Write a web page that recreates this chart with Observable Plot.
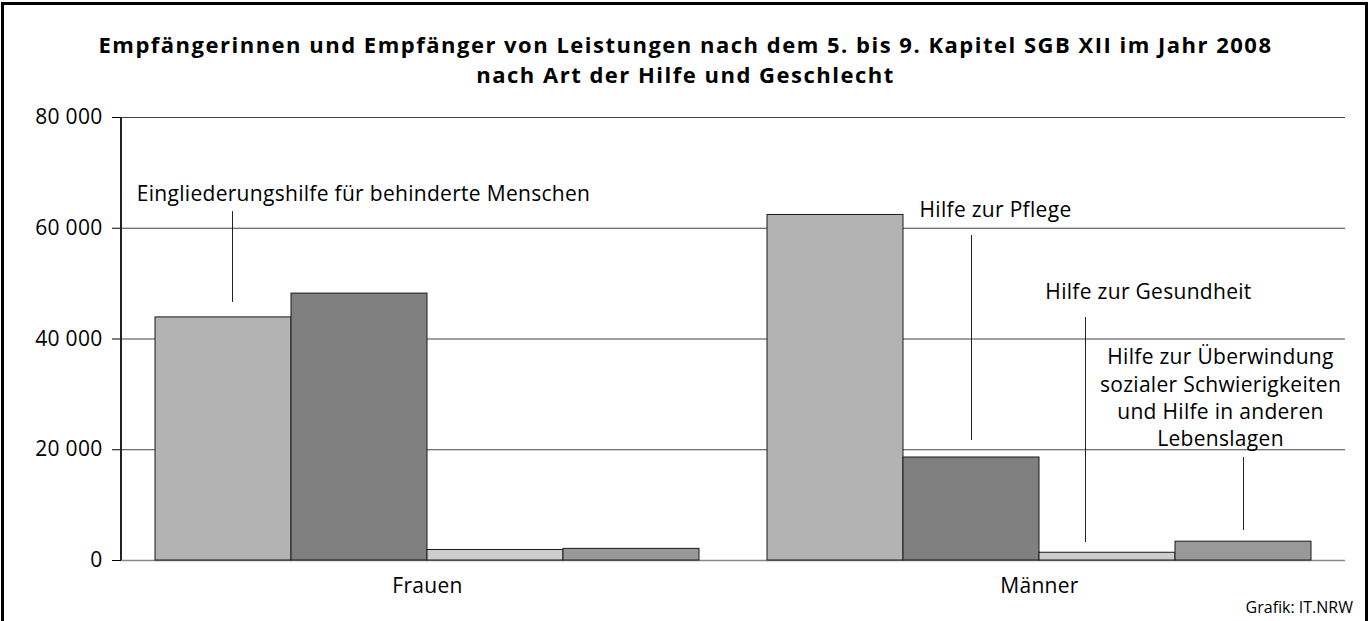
<!DOCTYPE html>
<html>
<head>
<meta charset="utf-8">
<script src="https://cdn.jsdelivr.net/npm/d3@7"></script>
<script src="https://cdn.jsdelivr.net/npm/@observablehq/plot@0.6"></script>
<style>
  html, body { margin: 0; padding: 0; background: #fff; }
  body { width: 1371px; height: 621px; overflow: hidden; position: relative; font-family: "Open Sans", "Noto Sans", sans-serif; color: #000; }
  #frame { position: absolute; left: 1px; top: 2px; width: 1361px; height: 700px; border: 3px solid #000; }
  #title { position: absolute; left: 0; top: 29px; width: 1371px; text-align: center; font-weight: bold; font-size: 22px; letter-spacing: 1.5px; line-height: 30px; }
  #chart { position: absolute; left: 0; top: 95px; }
  #caption { position: absolute; right: 18px; top: 597px; font-size: 16px; line-height: 20px; }
</style>
</head>
<body>
<div id="frame"></div>
<div id="title">Empfängerinnen und Empfänger von Leistungen nach dem 5. bis 9. Kapitel SGB XII im Jahr 2008<br>nach Art der Hilfe und Geschlecht</div>
<div id="chart"></div>
<div id="caption">Grafik: IT.NRW</div>
<script>
// ---- data ----
const groups = ["Frauen", "Männer"];
const types = [
  "Eingliederungshilfe für behinderte Menschen",
  "Hilfe zur Pflege",
  "Hilfe zur Gesundheit",
  "Hilfe zur Überwindung sozialer Schwierigkeiten und Hilfe in anderen Lebenslagen"
];
const frauenValues = [43900, 48200, 1900, 2100];
const maennerValues = [62400, 18600, 1400, 3400];
const typeColors = ["#b3b3b3", "#808080", "#cccccc", "#999999"];
const yTicks = [0, 20000, 40000, 60000, 80000];

// annotation labels (anchored to a bar of a group, in data units)
const labelTexts = [
  "Eingliederungshilfe für behinderte Menschen",
  "Hilfe zur Pflege",
  "Hilfe zur Gesundheit",
  "Hilfe zur Überwindung\nsozialer Schwierigkeiten\nund Hilfe in anderen\nLebenslagen"
];
const labelGroups = ["Frauen", "Männer", "Männer", "Männer"];
const labelTextY = [66450, 63570, 48760, 29600];
const labelTextDx = [140, 24, 41, -23];
const leaderY1 = [63000, 58690, 43880, 18600];
const leaderY2 = [46600, 21670, 3250, 5420];
const leaderDx = [9, 0, -22, 0];

// ---- build tables ----
const bars = [];
types.forEach((t, i) => {
  bars.push({group: groups[0], type: t, value: frauenValues[i]});
  bars.push({group: groups[1], type: t, value: maennerValues[i]});
});
const labels = labelTexts.map((text, i) => ({
  group: labelGroups[i], type: types[i], text, y: labelTextY[i], dx: labelTextDx[i],
  y1: leaderY1[i], y2: leaderY2[i], ldx: leaderDx[i]
}));

const fmt = d => d3.format(",")(d).replace(/,/g, " ");
const font = "'Open Sans', 'Noto Sans', sans-serif";

const plot = Plot.plot({
  width: 1371,
  height: 505,
  marginLeft: 121,
  marginRight: 26,
  marginTop: 22,
  marginBottom: 40,
  style: { fontFamily: font, fontSize: "21px", letterSpacing: "0.3px", color: "#000", background: "transparent" },
  fx: { domain: groups, padding: 0, label: null },
  x: { domain: types, paddingInner: 0, paddingOuter: 0.25, axis: null },
  y: { domain: [0, 80000], label: null },
  color: { domain: types, range: typeColors },
  marks: [
    Plot.ruleY(yTicks.slice(1), { stroke: "#444", strokeWidth: 1 }),
    Plot.ruleY([0], { stroke: "#888", strokeWidth: 1.5 }),
    Plot.barY(bars, { fx: "group", x: "type", y: "value", fill: "type", stroke: "#1a1a1a", strokeWidth: 1, inset: 0 }),
    Plot.axisY({ ticks: yTicks, tickFormat: fmt, tickSize: 9, tickPadding: 10, label: null, fontSize: 21, stroke: "#000" }),
    Plot.axisFx({ anchor: "bottom", tickSize: 0, tickPadding: 18, label: null, fontSize: 21 }),
    ...labels.map(l => Plot.ruleX([l], { fx: "group", x: "type", y1: "y1", y2: "y2", dx: l.ldx, stroke: "#222", strokeWidth: 1 })),
    ...labels.map(l => Plot.text([l], { fx: "group", x: "type", y: "y", text: "text", dx: l.dx, textAnchor: "middle", lineAnchor: "middle", lineHeight: 1.3, fontSize: 21, fill: "#000" }))
  ]
});
document.getElementById("chart").appendChild(plot);

// vertical y-axis line drawn with the plot's own y scale
const ys = plot.scale("y");
d3.select(plot).append("line")
  .attr("x1", 121).attr("x2", 121)
  .attr("y1", ys.apply(0)).attr("y2", ys.apply(80000))
  .attr("stroke", "#222").attr("stroke-width", 2);
</script>
</body>
</html>
